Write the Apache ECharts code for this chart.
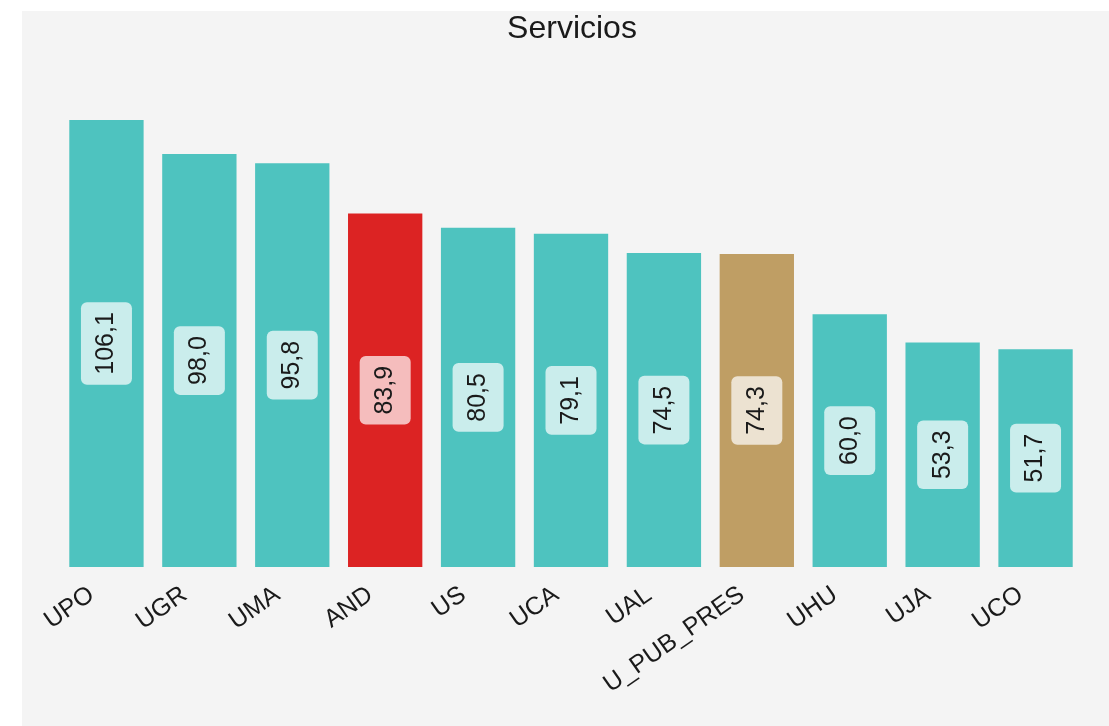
<!DOCTYPE html>
<html>
<head>
<meta charset="utf-8">
<script src="https://cdn.jsdelivr.net/npm/echarts@6/dist/echarts.min.js"></script>
<style>
html,body{margin:0;padding:0;background:#ffffff;}
#chart{position:absolute;left:22px;top:11px;width:1087px;height:715px;background:#f4f4f4;}
</style>
</head>
<body>
<div id="chart"></div>
<script>
const title = 'Servicios';
const categories = ['UPO','UGR','UMA','AND','US','UCA','UAL','U_PUB_PRES','UHU','UJA','UCO'];
const values = [106.1, 98.0, 95.8, 83.9, 80.5, 79.1, 74.5, 74.3, 60.0, 53.3, 51.7];

const TEAL = '#4ec3bf', RED = '#dc2323', GOLD = '#bf9e64';
function colorFor(name){
  if (name === 'AND') return RED;
  if (name === 'U_PUB_PRES') return GOLD;
  return TEAL;
}
const chart = echarts.init(document.getElementById('chart'));
chart.setOption({
  backgroundColor: '#f4f4f4',
  animation: false,
  title: {
    text: title,
    left: 545, top: 0, textAlign: 'center',
    padding: [2, 5, 5, 5],
    textStyle: { fontFamily: 'Liberation Sans, Arial, sans-serif', fontSize: 32, fontWeight: 'normal', color: '#1a1a1a' }
  },
  grid: { left: 38, right: 27, top: 50.4, bottom: 159, containLabel: false },
  xAxis: {
    type: 'category',
    data: categories,
    axisLine: { show: false },
    axisTick: { show: false },
    axisLabel: {
      rotate: 35, margin: 15, interval: 0,
      padding: [0, 18, 0, 0],
      fontFamily: 'Liberation Sans, Arial, sans-serif', fontSize: 25, color: '#1a1a1a'
    }
  },
  yAxis: { type: 'value', min: 0, max: 120, show: false, splitLine: { show: false } },
  series: [{
    type: 'bar',
    barCategoryGap: '20%',
    data: categories.map((c, i) => ({ value: values[i], itemStyle: { color: colorFor(c) } })),
    label: {
      show: true,
      position: 'inside',
      rotate: 90,
      formatter: p => p.value.toFixed(1).replace('.', ','),
      fontFamily: 'Liberation Sans, Arial, sans-serif',
      fontSize: 25,
      color: '#1a1a1a',
      backgroundColor: 'rgba(255,255,255,0.7)',
      borderRadius: 6,
      padding: [13, 10]
    }
  }]
});
</script>
</body>
</html>
